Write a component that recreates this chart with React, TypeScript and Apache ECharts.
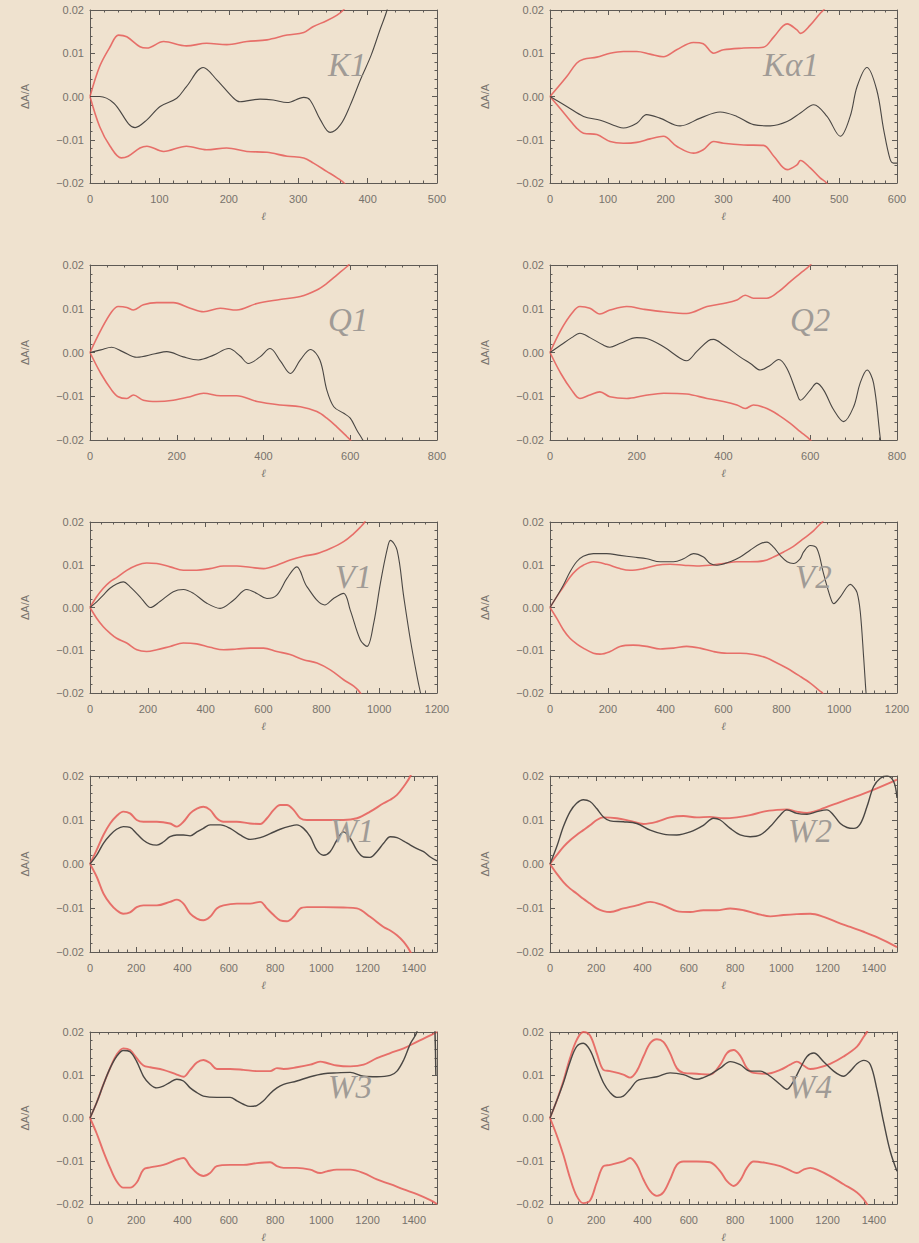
import React, { useEffect, useRef } from "react";
import * as echarts from "echarts";

type Pt = [number, number];

// ---------- data (ℓ, ΔA/A) ----------
const K1_DATA: Pt[] = [[0,0],[14,0],[34,-0.0015],[65,-0.0072],[82,-0.0054],[101,-0.0023],[125,-0.0004],[139,0.0023],[163,0.0067],[183,0.0038],[207,-0.0004],[216,-0.0012],[245,-0.0006],[264,-0.0008],[284,-0.0014],[308,-0.0002],[317,-0.0008],[332,-0.0054],[346,-0.0083],[361,-0.0065],[375,-0.002],[390,0.004],[405,0.0095],[418,0.0155],[428,0.02],[440,0.028]];
const K1_UP: Pt[] = [[0,0],[14,0.007],[29,0.0115],[41,0.0142],[53,0.0138],[72,0.0115],[82,0.0112],[106,0.0127],[139,0.0117],[168,0.0123],[197,0.012],[226,0.0127],[255,0.0131],[284,0.0142],[308,0.0148],[322,0.0162],[341,0.0175],[356,0.0188],[365,0.02],[380,0.023]];
const K1_LO: Pt[] = [[0,0],[14,-0.007],[29,-0.0115],[45,-0.0142],[55,-0.0138],[72,-0.0119],[82,-0.0115],[106,-0.0127],[139,-0.0115],[168,-0.0123],[197,-0.0119],[226,-0.0127],[255,-0.0129],[284,-0.0138],[308,-0.0142],[322,-0.0154],[341,-0.0173],[356,-0.0188],[366,-0.02],[380,-0.023]];

const KA1_DATA: Pt[] = [[0,0],[29,-0.0023],[58,-0.0046],[87,-0.0055],[115,-0.0069],[127,-0.0073],[150,-0.0062],[167,-0.0042],[190,-0.005],[225,-0.0068],[260,-0.005],[294,-0.0036],[323,-0.0046],[352,-0.0065],[381,-0.0068],[410,-0.0058],[433,-0.0038],[456,-0.0019],[479,-0.0046],[502,-0.0092],[519,-0.0046],[531,0.0023],[548,0.0067],[565,0.0015],[577,-0.0077],[588,-0.0145],[594,-0.0154],[600,-0.0154]];
const KA1_UP: Pt[] = [[0,0],[29,0.0046],[46,0.0077],[58,0.0086],[81,0.0091],[104,0.01],[127,0.0104],[150,0.0104],[173,0.0098],[196,0.0092],[219,0.0108],[248,0.0125],[265,0.0122],[283,0.01],[300,0.0108],[335,0.0112],[369,0.0114],[387,0.0138],[410,0.0168],[427,0.0154],[433,0.0146],[450,0.0165],[467,0.0192],[473,0.02],[490,0.023]];
const KA1_LO: Pt[] = [[0,0],[29,-0.0046],[46,-0.0073],[58,-0.0085],[81,-0.0088],[104,-0.0104],[127,-0.0108],[150,-0.0106],[173,-0.0098],[196,-0.0092],[219,-0.0115],[248,-0.0131],[265,-0.0123],[283,-0.0104],[300,-0.0108],[335,-0.0112],[369,-0.0113],[387,-0.0138],[410,-0.0169],[427,-0.0158],[433,-0.0148],[450,-0.0165],[467,-0.0188],[478,-0.02],[490,-0.023]];

const Q1_DATA: Pt[] = [[0,0],[25,0.0006],[50,0.0012],[75,0.0002],[108,-0.0011],[150,-0.0003],[177,0.0002],[215,-0.001],[250,-0.0017],[285,-0.0006],[320,0.0009],[346,-0.0008],[365,-0.0025],[392,-0.001],[415,0.0009],[440,-0.0021],[462,-0.0048],[485,-0.0017],[508,0.0007],[530,-0.0017],[546,-0.0086],[562,-0.0124],[585,-0.0139],[600,-0.015],[615,-0.0177],[631,-0.0204],[640,-0.023]];
const Q1_UP: Pt[] = [[0,0],[25,0.0051],[50,0.0093],[65,0.0105],[85,0.0103],[100,0.0097],[123,0.0109],[154,0.0114],[192,0.0114],[231,0.0101],[262,0.0093],[300,0.0101],[338,0.0097],[385,0.0112],[438,0.0121],[485,0.0128],[523,0.0143],[546,0.0158],[569,0.0177],[592,0.0196],[596,0.02],[620,0.024]];
const Q1_LO: Pt[] = [[0,0],[25,-0.0048],[50,-0.0086],[65,-0.0101],[85,-0.0105],[100,-0.0097],[123,-0.0109],[154,-0.0112],[192,-0.0109],[231,-0.0101],[262,-0.0093],[300,-0.0099],[338,-0.0099],[385,-0.0112],[438,-0.012],[485,-0.0124],[523,-0.0135],[546,-0.015],[569,-0.017],[592,-0.0192],[600,-0.02],[620,-0.024]];

const Q2_DATA: Pt[] = [[0,0],[25,0.0017],[50,0.0034],[69,0.0044],[92,0.0034],[123,0.0017],[138,0.0012],[162,0.0021],[200,0.0034],[223,0.0032],[262,0.0013],[300,-0.0013],[315,-0.0019],[338,0.0002],[365,0.0027],[377,0.003],[400,0.0017],[438,-0.001],[462,-0.0025],[485,-0.004],[508,-0.0029],[527,-0.0016],[546,-0.0036],[569,-0.0093],[577,-0.0109],[600,-0.0086],[615,-0.007],[631,-0.0086],[654,-0.0131],[677,-0.0158],[700,-0.0124],[715,-0.007],[731,-0.004],[746,-0.007],[762,-0.02],[770,-0.025]];
const Q2_UP: Pt[] = [[0,0],[25,0.0051],[50,0.0089],[69,0.0105],[92,0.0101],[115,0.0088],[138,0.0097],[177,0.0105],[215,0.0099],[262,0.0093],[315,0.0089],[362,0.0105],[400,0.0112],[431,0.012],[450,0.0131],[469,0.0124],[500,0.0124],[527,0.0139],[554,0.0162],[577,0.0181],[600,0.02],[620,0.023]];
const Q2_LO: Pt[] = [[0,0],[25,-0.0048],[50,-0.0086],[69,-0.0105],[92,-0.0097],[115,-0.009],[138,-0.0101],[177,-0.0105],[215,-0.0099],[262,-0.0093],[315,-0.0095],[362,-0.0105],[400,-0.0112],[431,-0.012],[450,-0.0128],[469,-0.012],[500,-0.0128],[527,-0.0143],[554,-0.0162],[577,-0.0181],[600,-0.02],[620,-0.023]];

const V1_DATA: Pt[] = [[0,0],[23,0.0013],[46,0.0029],[69,0.0045],[92,0.0055],[115,0.006],[138,0.0049],[173,0.0025],[196,0.0006],[208,0],[242,0.0014],[288,0.0037],[323,0.0042],[358,0.0033],[404,0.001],[450,-0.0002],[496,0.0017],[542,0.0042],[577,0.0033],[612,0.0021],[646,0.0029],[681,0.0068],[715,0.0095],[750,0.0049],[812,0.0006],[842,0.0021],[877,0.0033],[900,-0.0006],[935,-0.0076],[958,-0.0091],[981,-0.0037],[1004,0.0056],[1027,0.0134],[1039,0.0157],[1062,0.0134],[1085,0.0025],[1108,-0.0076],[1131,-0.0161],[1143,-0.02],[1160,-0.025]];
const V1_UP: Pt[] = [[0,0],[23,0.0025],[46,0.0045],[69,0.006],[92,0.007],[127,0.0087],[162,0.0099],[196,0.0104],[231,0.0103],[277,0.0095],[323,0.0087],[369,0.0087],[415,0.0091],[462,0.0097],[508,0.0097],[554,0.0094],[600,0.0091],[646,0.0099],[692,0.0111],[738,0.012],[785,0.0126],[831,0.0138],[877,0.0154],[912,0.0173],[935,0.0188],[950,0.02],[980,0.024]];
const V1_LO: Pt[] = [[0,0],[23,-0.0025],[46,-0.0045],[69,-0.006],[92,-0.0072],[127,-0.0083],[162,-0.0099],[196,-0.0103],[231,-0.0099],[277,-0.0091],[323,-0.0083],[369,-0.0085],[415,-0.0093],[462,-0.0099],[508,-0.0097],[554,-0.0095],[600,-0.0095],[646,-0.0103],[692,-0.011],[738,-0.0122],[785,-0.013],[831,-0.0146],[877,-0.0169],[912,-0.0184],[935,-0.02],[960,-0.024]];

const V2_DATA: Pt[] = [[0,0],[23,0.0025],[46,0.0052],[69,0.0083],[92,0.0107],[115,0.012],[150,0.0126],[196,0.0126],[242,0.0122],[288,0.0118],[335,0.0114],[381,0.0107],[427,0.0107],[462,0.0114],[496,0.0126],[531,0.0118],[554,0.0103],[577,0.0099],[623,0.0107],[658,0.0118],[692,0.0134],[727,0.0149],[750,0.0153],[773,0.0141],[796,0.0122],[820,0.0107],[842,0.0103],[865,0.0114],[877,0.013],[900,0.0145],[923,0.0138],[946,0.0079],[969,0.0025],[981,0.0009],[1004,0.0025],[1027,0.0048],[1039,0.0054],[1050,0.0048],[1062,0.0035],[1073,-0.001],[1085,-0.012],[1093,-0.02],[1100,-0.025]];
const V2_UP: Pt[] = [[0,0],[23,0.0025],[46,0.0048],[69,0.0071],[92,0.0088],[115,0.0099],[150,0.0107],[196,0.0101],[242,0.0091],[277,0.0087],[323,0.0091],[369,0.0099],[415,0.0101],[462,0.0099],[508,0.0097],[554,0.0099],[600,0.0103],[646,0.0107],[692,0.0107],[738,0.0109],[773,0.0118],[808,0.013],[842,0.0143],[877,0.0161],[912,0.018],[935,0.0196],[942,0.02],[970,0.024]];
const V2_LO: Pt[] = [[0,0],[23,-0.0025],[46,-0.0052],[69,-0.0072],[92,-0.0085],[115,-0.0095],[150,-0.0107],[173,-0.0109],[208,-0.0103],[242,-0.0091],[288,-0.0088],[335,-0.0091],[381,-0.0097],[427,-0.0095],[473,-0.0091],[519,-0.0095],[565,-0.0103],[612,-0.0107],[658,-0.0107],[704,-0.011],[750,-0.0118],[785,-0.013],[820,-0.0142],[865,-0.0161],[900,-0.0177],[935,-0.0196],[942,-0.02],[970,-0.024]];

const W1_DATA: Pt[] = [[0,0],[29,0.002],[58,0.0047],[87,0.0066],[115,0.0079],[144,0.0085],[173,0.0083],[202,0.0069],[231,0.0054],[260,0.0045],[289,0.0043],[317,0.005],[346,0.0062],[375,0.0066],[404,0.0066],[433,0.0064],[462,0.0073],[490,0.0081],[519,0.0089],[563,0.0089],[606,0.0081],[649,0.0066],[692,0.0056],[736,0.006],[779,0.0069],[822,0.0079],[865,0.0086],[894,0.0089],[923,0.0081],[952,0.0062],[981,0.0031],[1010,0.002],[1038,0.0028],[1067,0.0054],[1096,0.0073],[1125,0.0058],[1154,0.0031],[1183,0.0016],[1211,0.0015],[1240,0.0028],[1269,0.0047],[1298,0.0062],[1327,0.006],[1356,0.0052],[1385,0.0043],[1413,0.0035],[1442,0.0028],[1471,0.0016],[1500,0.0007]];
const W1_UP: Pt[] = [[0,0],[29,0.0032],[58,0.0066],[87,0.0092],[115,0.0109],[144,0.0119],[173,0.0115],[202,0.01],[231,0.0096],[289,0.0096],[346,0.0092],[375,0.0085],[404,0.0096],[433,0.0115],[462,0.0126],[490,0.013],[519,0.0123],[548,0.0104],[577,0.0096],[635,0.0096],[692,0.0092],[736,0.0091],[765,0.0104],[794,0.0123],[822,0.0134],[851,0.0134],[880,0.0123],[909,0.0104],[938,0.01],[1010,0.01],[1096,0.01],[1154,0.0104],[1211,0.0119],[1269,0.0138],[1298,0.0146],[1327,0.0157],[1356,0.0176],[1385,0.02],[1410,0.024]];
const W1_LO: Pt[] = [[0,0],[29,-0.0029],[58,-0.0067],[87,-0.009],[115,-0.0105],[144,-0.0113],[173,-0.011],[202,-0.0098],[231,-0.0094],[289,-0.0094],[346,-0.0086],[375,-0.0081],[404,-0.009],[433,-0.0113],[462,-0.0124],[490,-0.0128],[519,-0.012],[548,-0.0101],[577,-0.0094],[635,-0.009],[692,-0.009],[736,-0.0086],[765,-0.0101],[794,-0.0116],[822,-0.0128],[851,-0.013],[880,-0.012],[909,-0.0101],[938,-0.0098],[1010,-0.0098],[1096,-0.0099],[1154,-0.0101],[1211,-0.012],[1269,-0.0143],[1298,-0.0151],[1327,-0.0162],[1356,-0.0177],[1385,-0.02],[1410,-0.024]];

const W2_DATA: Pt[] = [[0,0],[29,0.0039],[58,0.0085],[87,0.0119],[115,0.0138],[144,0.0146],[173,0.0142],[202,0.0126],[231,0.0107],[260,0.0098],[317,0.0096],[375,0.0092],[433,0.0077],[490,0.0068],[548,0.0066],[606,0.0073],[663,0.0088],[707,0.0104],[736,0.01],[779,0.0081],[822,0.0066],[865,0.0062],[909,0.0066],[952,0.0085],[995,0.0111],[1024,0.0123],[1067,0.0115],[1111,0.0113],[1154,0.0119],[1197,0.0123],[1226,0.0111],[1255,0.0092],[1284,0.0083],[1313,0.0081],[1342,0.0092],[1370,0.013],[1399,0.0176],[1428,0.0195],[1457,0.02],[1486,0.0187],[1500,0.015]];
const W2_UP: Pt[] = [[0,0],[29,0.002],[58,0.0039],[87,0.0054],[115,0.0066],[144,0.0077],[173,0.0088],[202,0.01],[231,0.0106],[289,0.0104],[346,0.0098],[404,0.0091],[462,0.0096],[519,0.0106],[577,0.0109],[635,0.0106],[692,0.0107],[750,0.0104],[808,0.0106],[865,0.0111],[923,0.0119],[981,0.0123],[1024,0.0124],[1067,0.0119],[1111,0.0116],[1154,0.0121],[1197,0.013],[1240,0.0138],[1298,0.0149],[1356,0.016],[1413,0.0172],[1471,0.0185],[1500,0.0192]];
const W2_LO: Pt[] = [[0,0],[29,-0.0022],[58,-0.0041],[87,-0.0056],[115,-0.0067],[144,-0.0079],[173,-0.009],[202,-0.0101],[231,-0.0107],[260,-0.0109],[317,-0.0101],[375,-0.0094],[433,-0.0086],[490,-0.0094],[548,-0.0107],[606,-0.0109],[663,-0.0105],[721,-0.0105],[779,-0.0101],[837,-0.0105],[894,-0.0113],[952,-0.0119],[1010,-0.0116],[1067,-0.0114],[1125,-0.0113],[1183,-0.012],[1240,-0.0132],[1298,-0.0143],[1356,-0.0154],[1413,-0.0166],[1471,-0.0181],[1500,-0.0189]];

const W3_DATA: Pt[] = [[0,0],[29,0.0036],[58,0.0078],[87,0.0116],[115,0.0143],[144,0.0157],[173,0.0154],[202,0.0131],[231,0.0097],[260,0.0078],[289,0.007],[317,0.0074],[346,0.0083],[375,0.009],[404,0.0086],[433,0.007],[462,0.0059],[490,0.0051],[548,0.0048],[606,0.0048],[635,0.004],[663,0.0032],[692,0.0027],[721,0.0029],[750,0.004],[779,0.0057],[808,0.007],[837,0.0078],[894,0.0086],[952,0.0096],[1010,0.0103],[1067,0.0105],[1125,0.0106],[1183,0.0097],[1240,0.0096],[1298,0.0099],[1327,0.0109],[1356,0.0135],[1385,0.0173],[1413,0.02],[1445,0.03],[1475,0.03],[1495,0.01]];
const W3_UP: Pt[] = [[0,0],[29,0.0036],[58,0.0078],[87,0.0116],[115,0.0147],[144,0.0162],[173,0.0158],[202,0.0139],[231,0.0122],[260,0.0118],[317,0.0112],[375,0.0101],[404,0.0096],[433,0.0112],[462,0.0129],[490,0.0135],[519,0.0128],[548,0.0114],[606,0.0114],[663,0.0112],[721,0.0109],[779,0.0109],[808,0.0116],[837,0.0114],[894,0.0118],[952,0.0124],[995,0.0131],[1024,0.0128],[1067,0.0122],[1125,0.012],[1183,0.0124],[1240,0.0139],[1298,0.0151],[1356,0.0162],[1413,0.0177],[1471,0.0192],[1500,0.02]];
const W3_LO: Pt[] = [[0,0],[29,-0.0036],[58,-0.0078],[87,-0.0116],[115,-0.0147],[144,-0.0162],[173,-0.0162],[202,-0.015],[231,-0.012],[260,-0.0115],[317,-0.0109],[375,-0.0097],[404,-0.0093],[433,-0.0112],[462,-0.0128],[490,-0.0135],[519,-0.0128],[548,-0.0112],[606,-0.0109],[663,-0.0109],[721,-0.0105],[779,-0.0103],[808,-0.0112],[837,-0.0116],[894,-0.0116],[952,-0.012],[995,-0.0128],[1024,-0.0124],[1067,-0.012],[1125,-0.012],[1183,-0.0128],[1240,-0.0143],[1298,-0.0154],[1356,-0.0166],[1413,-0.0177],[1471,-0.0191],[1500,-0.02]];

const W4_DATA: Pt[] = [[0,0],[29,0.004],[58,0.0082],[87,0.0131],[115,0.0166],[144,0.0174],[173,0.0158],[202,0.012],[231,0.0082],[260,0.0059],[289,0.0048],[317,0.0051],[346,0.0067],[375,0.0086],[404,0.0091],[462,0.0096],[519,0.0105],[577,0.0101],[635,0.009],[663,0.0094],[692,0.0101],[736,0.0116],[779,0.0131],[822,0.0124],[865,0.0109],[909,0.0109],[952,0.0097],[995,0.0078],[1024,0.0067],[1053,0.0086],[1082,0.0116],[1111,0.0143],[1140,0.0151],[1183,0.0131],[1226,0.0109],[1255,0.0099],[1269,0.0097],[1298,0.0109],[1327,0.0126],[1356,0.0134],[1385,0.0124],[1413,0.0067],[1442,-0.0009],[1471,-0.0078],[1500,-0.0124]];
const W4_UP: Pt[] = [[0,0],[29,0.004],[58,0.0086],[87,0.014],[115,0.0181],[144,0.02],[173,0.0192],[202,0.0151],[231,0.0112],[260,0.0109],[317,0.0101],[346,0.0094],[375,0.0109],[404,0.0143],[433,0.0174],[462,0.0183],[490,0.0177],[519,0.0151],[548,0.0116],[577,0.0105],[635,0.0103],[692,0.0101],[736,0.0124],[765,0.0151],[794,0.0158],[822,0.0145],[851,0.0116],[880,0.0105],[938,0.0103],[995,0.0112],[1038,0.0124],[1067,0.0131],[1096,0.0122],[1125,0.0114],[1154,0.0116],[1211,0.0126],[1269,0.0143],[1327,0.0166],[1356,0.0189],[1370,0.02],[1400,0.024]];
const W4_LO: Pt[] = [[0,0],[29,-0.004],[58,-0.0086],[87,-0.014],[115,-0.0181],[144,-0.0198],[173,-0.0192],[202,-0.015],[231,-0.0112],[260,-0.0109],[317,-0.0101],[346,-0.0093],[375,-0.0109],[404,-0.0143],[433,-0.017],[462,-0.0181],[490,-0.0173],[519,-0.0143],[548,-0.0109],[577,-0.0101],[635,-0.0101],[692,-0.0103],[736,-0.0124],[765,-0.0147],[794,-0.0158],[822,-0.0145],[851,-0.0116],[880,-0.0101],[938,-0.0105],[995,-0.0112],[1038,-0.0122],[1067,-0.0128],[1096,-0.012],[1125,-0.0116],[1154,-0.012],[1211,-0.0135],[1269,-0.0154],[1327,-0.0173],[1356,-0.0189],[1370,-0.02],[1400,-0.024]];

const PANEL_LABELS = ["K1", "Kα1", "Q1", "Q2", "V1", "V2", "W1", "W2", "W3", "W4"];
const X_MAX = [500, 600, 800, 800, 1200, 1200, 1500, 1500, 1500, 1500];
const X_STEP = [100, 100, 200, 200, 200, 200, 200, 200, 200, 200];
const Y_TICKS = [-0.02, -0.01, 0, 0.01, 0.02];
const DATA_SERIES = [K1_DATA, KA1_DATA, Q1_DATA, Q2_DATA, V1_DATA, V2_DATA, W1_DATA, W2_DATA, W3_DATA, W4_DATA];
const UP_SERIES = [K1_UP, KA1_UP, Q1_UP, Q2_UP, V1_UP, V2_UP, W1_UP, W2_UP, W3_UP, W4_UP];
const LO_SERIES = [K1_LO, KA1_LO, Q1_LO, Q2_LO, V1_LO, V2_LO, W1_LO, W2_LO, W3_LO, W4_LO];

// ---------- layout / style ----------
const BG = "#efe2cf";
const AXIS = "#5e5a55";
const LABEL = "#77726c";
const COL_LEFT = [90, 550];
const PLOT_W = 347;
const ROW_TOP = [10, 265, 522, 776, 1032];
const ROW_H = [173, 175, 171, 176, 175];
const LABEL_DX = [238, 213, 238, 240, 245, 245, 240, 238, 238, 238];

function fmtY(v: number): string {
  const s = Math.abs(v).toFixed(2);
  return v < -1e-9 ? "\u2212" + s : s;
}

function buildOption() {
  const grid: any[] = [];
  const xAxis: any[] = [];
  const yAxis: any[] = [];
  const series: any[] = [];
  const graphic: any[] = [];

  const lineStyle = { color: AXIS, width: 1 };
  const tick = { show: true, inside: true, length: 5, lineStyle };
  const minor = { show: true, splitNumber: 5, length: 2.5, lineStyle };

  PANEL_LABELS.forEach((label, i) => {
    const col = i % 2;
    const row = Math.floor(i / 2);
    const left = COL_LEFT[col];
    const top = ROW_TOP[row];
    const h = ROW_H[row];
    const step = X_STEP[i];
    grid.push({ left, top, width: PLOT_W, height: h, show: false });

    const xc = {
      gridIndex: i, type: "value", min: 0, max: X_MAX[i], interval: step,
      splitLine: { show: false },
      axisLine: { show: true, onZero: false, lineStyle },
      axisTick: tick, minorTick: minor,
    };
    xAxis.push({
      ...xc, position: "bottom",
      axisLabel: {
        color: LABEL, fontSize: 11, margin: 10, fontFamily: "Liberation Sans",
        formatter: (v: number) => (v % step === 0 ? String(v) : ""),
      },
      name: "ℓ", nameLocation: "middle", nameGap: 27,
      nameTextStyle: { color: LABEL, fontSize: 11, fontStyle: "italic", fontFamily: "Liberation Serif" },
    });
    xAxis.push({ ...xc, position: "top", axisLabel: { show: false } });

    const yc = {
      gridIndex: i, type: "value", min: Y_TICKS[0], max: Y_TICKS[Y_TICKS.length - 1],
      interval: 0.01,
      splitLine: { show: false },
      axisLine: { show: true, onZero: false, lineStyle },
      axisTick: tick, minorTick: minor,
    };
    yAxis.push({
      ...yc, position: "left",
      axisLabel: { color: LABEL, fontSize: 11, margin: 6, fontFamily: "Liberation Sans", formatter: fmtY },
      name: "ΔA/A", nameLocation: "middle", nameGap: 60,
      nameTextStyle: { color: LABEL, fontSize: 11, fontFamily: "Liberation Sans" },
    });
    yAxis.push({ ...yc, position: "right", axisLabel: { show: false } });

    const base = {
      type: "line", xAxisIndex: 2 * i, yAxisIndex: 2 * i, showSymbol: false,
      smooth: 0.35, clip: true, silent: true,
    };
    const redW = row >= 3 ? 1.9 : 1.6;
    series.push({ ...base, data: UP_SERIES[i], lineStyle: { color: "#e55a57", width: redW, opacity: 0.85 }, z: 2 });
    series.push({ ...base, data: LO_SERIES[i], lineStyle: { color: "#e55a57", width: redW, opacity: 0.85 }, z: 2 });
    series.push({ ...base, data: DATA_SERIES[i], lineStyle: { color: "#4a4744", width: row >= 3 ? 1.4 : 1.1 }, z: 3 });

    graphic.push({
      type: "text",
      left: left + LABEL_DX[i],
      top: top + 38,
      z: 10,
      style: {
        text: label,
        fill: "#a09b96",
        font: "italic 33px 'Liberation Serif'",
      },
    });
  });

  return {
    animation: false,
    backgroundColor: BG,
    grid, xAxis, yAxis, series, graphic,
  };
}

export default function App() {
  const ref = useRef<HTMLDivElement>(null);
  useEffect(() => {
    document.body.style.margin = "0";
    const chart = echarts.init(ref.current!, null, { renderer: "svg" });
    chart.setOption(buildOption() as any);
    return () => chart.dispose();
  }, []);
  return <div ref={ref} style={{ width: 919, height: 1243, background: BG }} />;
}
